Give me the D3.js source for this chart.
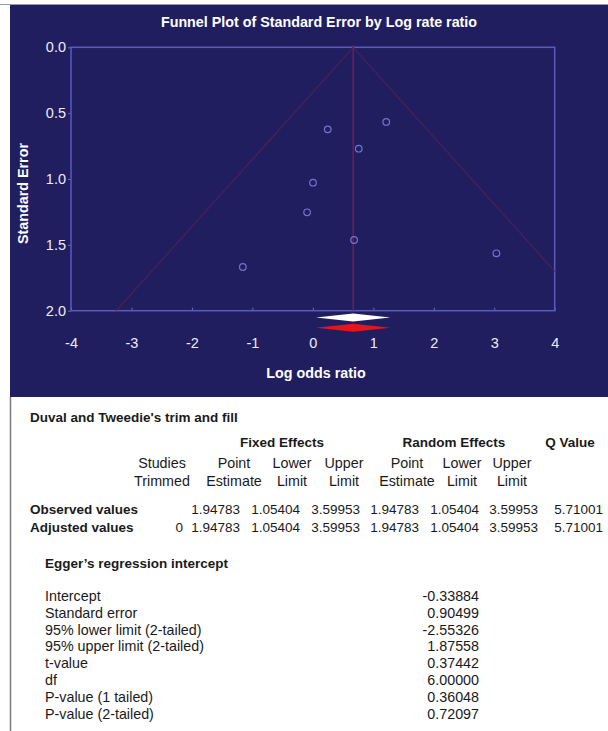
<!DOCTYPE html>
<html>
<head>
<meta charset="utf-8">
<script src="https://cdn.jsdelivr.net/npm/d3@7"></script>
<style>
  body { margin: 0; background: #fff; }
  svg { display: block; font-family: "Liberation Sans", Arial, sans-serif; }
</style>
</head>
<body>
<div id="chart"></div>
<script>
// study points (log odds ratio, standard error)
const studyLogRatio = [0.246, 1.214, 0.759, 0.003, -0.095, 0.682, 3.036, -1.158];
const studyStdErr = [0.623, 0.567, 0.770, 1.028, 1.253, 1.463, 1.564, 1.668];
const xTicks = [-4, -3, -2, -1, 0, 1, 2, 3, 4];
const yTicks = [0, 0.5, 1, 1.5, 2];

// fixed effect summary (odds ratio scale): point, lower, upper
const observedSummary = [1.94783, 1.05404, 3.59953];
const adjustedSummary = [1.94783, 1.05404, 3.59953];

// trim and fill table
const groupHeads = ["Fixed Effects", "Random Effects", "Q Value"];
const headTop = ["Studies", "Point", "Lower", "Upper", "Point", "Lower", "Upper"];
const headBottom = ["Trimmed", "Estimate", "Limit", "Limit", "Estimate", "Limit", "Limit"];
const rowNames = ["Observed values", "Adjusted values"];
const observedRow = ["", "1.94783", "1.05404", "3.59953", "1.94783", "1.05404", "3.59953", "5.71001"];
const adjustedRow = ["0", "1.94783", "1.05404", "3.59953", "1.94783", "1.05404", "3.59953", "5.71001"];

// Egger's regression intercept
const eggerLabels = ["Intercept", "Standard error", "95% lower limit (2-tailed)", "95% upper limit (2-tailed)",
  "t-value", "df", "P-value (1 tailed)", "P-value (2-tailed)"];
const eggerValues = ["-0.33884", "0.90499", "-2.55326", "1.87558", "0.37442", "6.00000", "0.36048", "0.72097"];

const W = 608, H = 731;
const navy = "#211e5f";

const svg = d3.select("#chart").append("svg")
  .attr("width", W).attr("height", H);

// panel background
svg.append("rect").attr("x", 0).attr("y", 0).attr("width", W).attr("height", H).attr("fill", "#fff");
svg.append("line").attr("x1", 0).attr("x2", W).attr("y1", 4.5).attr("y2", 4.5)
  .attr("stroke", "#9a9aa4").attr("stroke-width", 1);
svg.append("rect").attr("x", 10).attr("y", 5).attr("width", W - 10).attr("height", 392).attr("fill", navy);
svg.append("line").attr("x1", 10.5).attr("x2", 10.5).attr("y1", 397).attr("y2", H)
  .attr("stroke", "#7a7a80").attr("stroke-width", 1.5);

const x = d3.scaleLinear().domain([-4, 4]).range([71, 554.7]);
const y = d3.scaleLinear().domain([0, 2]).range([47.3, 310.7]);

svg.append("text")
  .attr("x", 319).attr("y", 27)
  .attr("text-anchor", "middle")
  .attr("fill", "#fff").attr("font-weight", "bold").attr("font-size", 14.3)
  .text("Funnel Plot of Standard Error by Log rate ratio");

svg.append("defs").append("clipPath").attr("id", "plotclip")
  .append("rect")
  .attr("x", x(-4)).attr("y", y(0) - 2)
  .attr("width", x(4) - x(-4)).attr("height", y(2) - y(0) + 2);

// axes (plain hyphen for negatives, like the original)
const xAxis = svg.append("g")
  .attr("transform", "translate(0," + y(2) + ")")
  .call(d3.axisBottom(x).tickValues(xTicks).tickSize(-3).tickPadding(27).tickFormat(d => String(d)));
const yAxis = svg.append("g")
  .attr("transform", "translate(" + x(-4) + ",0)")
  .call(d3.axisLeft(y).tickValues(yTicks).tickSize(3).tickPadding(2).tickFormat(d => d.toFixed(1)));

[xAxis, yAxis].forEach(g => {
  g.select(".domain").remove();
  g.selectAll(".tick line").attr("stroke", "#6a6ac8");
  g.selectAll(".tick text").attr("fill", "#ececf6").attr("font-size", 14.5)
    .attr("font-family", "Liberation Sans, Arial, sans-serif");
});

// frame
svg.append("rect")
  .attr("x", x(-4)).attr("y", y(0))
  .attr("width", x(4) - x(-4)).attr("height", y(2) - y(0))
  .attr("fill", "none").attr("stroke", "#5a5ac2").attr("stroke-width", 1.5);

// funnel around the fixed effect estimate
const theta = Math.log(observedSummary[0]);
const funnel = svg.append("g").attr("clip-path", "url(#plotclip)");
[-1, 1].forEach(s => {
  funnel.append("line")
    .attr("x1", x(theta)).attr("y1", y(0))
    .attr("x2", x(theta + s * 1.96 * 2)).attr("y2", y(2))
    .attr("stroke", "#4e1f55").attr("stroke-width", 1.2);
});
svg.append("line")
  .attr("x1", x(theta)).attr("x2", x(theta))
  .attr("y1", y(0) - 2).attr("y2", y(2))
  .attr("stroke", "#7e1f55").attr("stroke-width", 1.2);

// studies
svg.append("g").selectAll("circle")
  .data(studyLogRatio)
  .join("circle")
  .attr("cx", d => x(d))
  .attr("cy", (d, i) => y(studyStdErr[i]))
  .attr("r", 3.3)
  .attr("fill", "none")
  .attr("stroke", "#7474d0")
  .attr("stroke-width", 1.2);

// summary diamonds: observed (white) and adjusted (red)
function diamond(vals, cy) {
  const lo = x(Math.log(vals[1])), hi = x(Math.log(vals[2])), mid = x(Math.log(vals[0]));
  return [[lo, cy], [mid, cy - 4], [hi, cy], [mid, cy + 4]];
}
svg.append("polygon")
  .attr("points", diamond(observedSummary, 317.6).join(" "))
  .attr("fill", "#fff");
svg.append("polygon")
  .attr("points", diamond(adjustedSummary, 327.8).join(" "))
  .attr("fill", "#e8141c");

svg.append("text")
  .attr("x", 316).attr("y", 378)
  .attr("text-anchor", "middle")
  .attr("fill", "#fff").attr("font-weight", "bold").attr("font-size", 14.3)
  .text("Log odds ratio");

svg.append("text")
  .attr("transform", "translate(28,193.5) rotate(-90)")
  .attr("text-anchor", "middle")
  .attr("fill", "#fff").attr("font-weight", "bold").attr("font-size", 14.3)
  .text("Standard Error");

// trim and fill table
const tbl = svg.append("g").attr("fill", "#1a1a1a").attr("font-size", 14.3);
tbl.append("text").attr("x", 30).attr("y", 422).attr("font-weight", "bold").attr("font-size", 13.5)
  .text("Duval and Tweedie's trim and fill");

const groupX = [282, 454, 570];
tbl.selectAll(".grp").data(groupHeads).join("text")
  .attr("x", (d, i) => groupX[i]).attr("y", 447)
  .attr("text-anchor", "middle").attr("font-weight", "bold").attr("font-size", 13.5)
  .text(d => d);

const headX = [162, 234, 292, 344, 407, 462, 512];
tbl.selectAll(".ht").data(headTop).join("text")
  .attr("x", (d, i) => headX[i]).attr("y", 468)
  .attr("text-anchor", "middle").text(d => d);
tbl.selectAll(".hb").data(headBottom).join("text")
  .attr("x", (d, i) => headX[i]).attr("y", 486)
  .attr("text-anchor", "middle").text(d => d);

// numbers are right aligned in their columns
const colRight = [183, 240, 300, 360, 419, 479, 538, 603];
[observedRow, adjustedRow].forEach((row, r) => {
  const yy = 514 + r * 18;
  tbl.append("text").attr("x", 30).attr("y", yy).attr("font-weight", "bold").attr("font-size", 13.5)
    .text(rowNames[r]);
  tbl.selectAll(".r" + r).data(row).join("text")
    .attr("x", (d, i) => colRight[i])
    .attr("y", yy)
    .attr("text-anchor", "end")
    .attr("font-size", 13.5)
    .text(d => d);
});

const egg = svg.append("g").attr("fill", "#1a1a1a").attr("font-size", 14.3);
egg.append("text").attr("x", 45).attr("y", 568).attr("font-weight", "bold").attr("font-size", 13.5)
  .text("Egger\u2019s regression intercept");
egg.selectAll(".el").data(eggerLabels).join("text")
  .attr("x", 45).attr("y", (d, i) => 601 + i * 16.8).text(d => d);
egg.selectAll(".ev").data(eggerValues).join("text")
  .attr("x", 479).attr("y", (d, i) => 601 + i * 16.8)
  .attr("text-anchor", "end").text(d => d);
</script>
</body>
</html>
